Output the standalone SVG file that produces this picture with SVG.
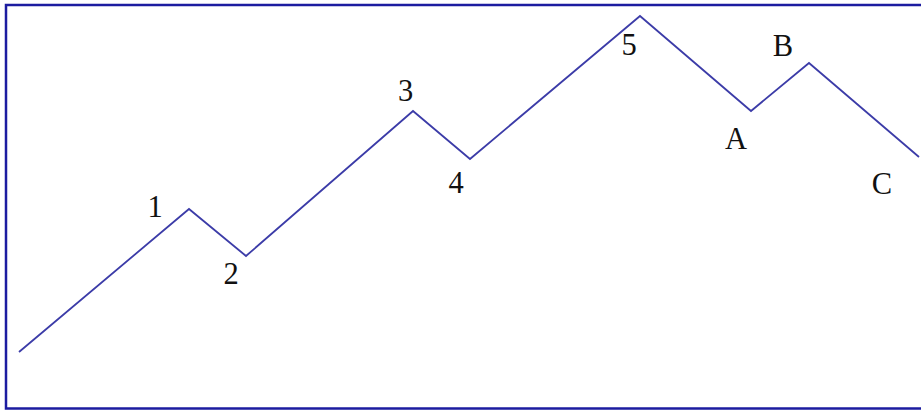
<svg xmlns="http://www.w3.org/2000/svg" width="921" height="412" viewBox="0 0 921 412">
<style>
.frame{fill:none;stroke:#1c1ca0;stroke-width:2.5}
.wave{fill:none;stroke:#3c3ca8;stroke-width:1.8;stroke-linejoin:miter}
.lbl{font-family:"Liberation Serif","Times New Roman",serif;font-size:30.5px;fill:#111;text-anchor:middle}
</style>
<rect width="921" height="412" fill="#fff"/>
<path class="frame" d="M925 5 H6 V408.5 H925"/>
<g id="connectors">
<polyline class="wave" points="19,352 189,209 246,256 413,111 470,159 640,16 751,111 809,63 919,157"/>
</g>
<g id="n1"><text class="lbl" x="155" y="217">1</text></g>
<g id="n2"><text class="lbl" x="231" y="283.5">2</text></g>
<g id="n3"><text class="lbl" x="405.5" y="101">3</text></g>
<g id="n4"><text class="lbl" x="456" y="193">4</text></g>
<g id="n5"><text class="lbl" x="629" y="54.5">5</text></g>
<g id="nA"><text class="lbl" x="736" y="148.5">A</text></g>
<g id="nB"><text class="lbl" x="783" y="56">B</text></g>
<g id="nC"><text class="lbl" x="882" y="194">C</text></g>
</svg>
